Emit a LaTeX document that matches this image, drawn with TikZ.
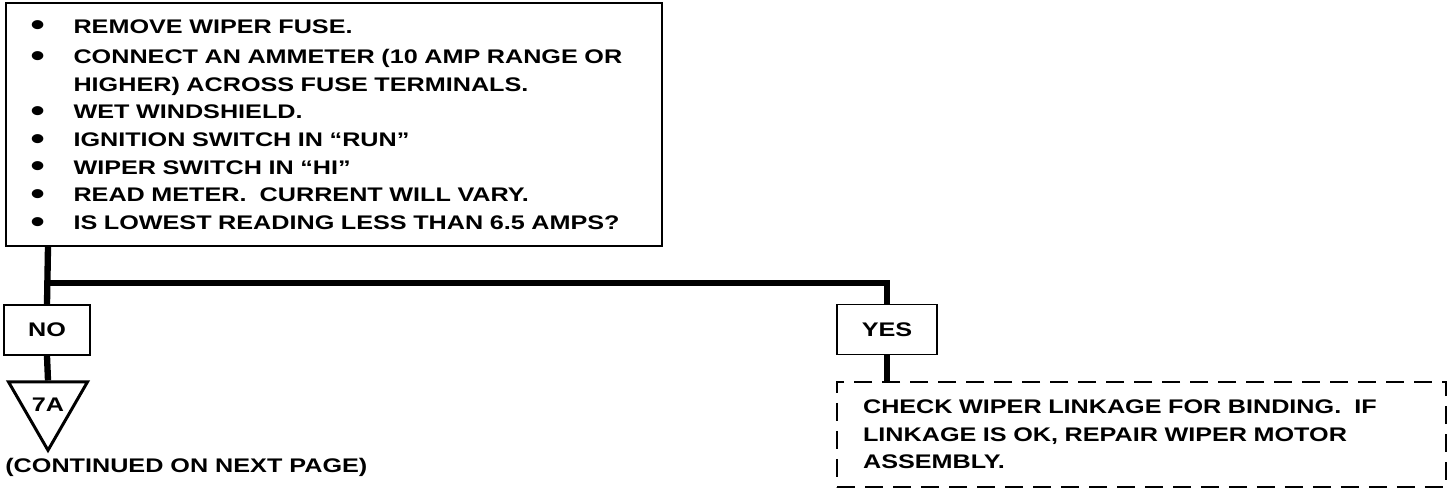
\documentclass[tikz,border=0pt]{standalone}
\usepackage{fontspec}
\setmainfont{Liberation Sans}[FakeStretch=1.28]
\usetikzlibrary{shapes.geometric}

\newcommand{\bul}{\makebox[0.86cm][l]{\smash{\raisebox{-0.14em}{\scalebox{1.6}{\textbullet}}}}}
\newcommand{\ind}{\hspace*{0.86cm}}

\begin{document}
\begin{tikzpicture}[x=0.02cm, y=-0.02cm,
		txt/.style={font=\bfseries\fontsize{11.2}{15.7}\selectfont},
		stepbox/.style={rectangle, draw=black, line width=1.1pt, txt, align=left, inner ysep=0pt},
		answer/.style={rectangle, draw=black, line width=1.1pt, txt, minimum height=1.0cm},
		trunk/.style={line width=3.6pt}]
		
		\useasboundingbox (0,0) rectangle (1456,492);
		
		% Test step
		\node[stepbox, minimum width=13.14cm, minimum height=4.86cm, text width=12.14cm, inner xsep=0.5cm] (test) at (334, 124.5)
		{\vspace*{0.06cm}\bul REMOVE WIPER FUSE.\\
			\bul CONNECT AN AMMETER (10 AMP RANGE OR\\
			\ind HIGHER) ACROSS FUSE TERMINALS.\\
			\bul WET WINDSHIELD.\\
			\bul IGNITION SWITCH IN “RUN”\\
			\bul WIPER SWITCH IN “HI”\\
			\bul READ METER.\ \ CURRENT WILL VARY.\\
			\bul IS LOWEST READING LESS THAN 6.5 AMPS?};
		
		% Answers
		\node[answer, minimum width=1.72cm] (no) at (47, 330) {NO};
		\node[answer, minimum width=2.0cm] (yes) at (887, 329.5) {YES};
		
		% NO branch
		\node[regular polygon, regular polygon sides=3, shape border rotate=180, draw=black, line width=1.7pt,
		minimum size=1.5cm, inner sep=0pt, txt] (next) at (48, 404.75) {7A};
		\node[txt, anchor=west, inner sep=0pt] (cont) at (5, 467) {(CONTINUED ON NEXT PAGE)};
		
		% YES branch
		\node[stepbox, dashed, dash pattern=on 0.36cm off 0.2cm, minimum width=12.18cm, minimum height=2.1cm, text width=11.14cm, inner xsep=0.52cm] (fix) at (1141.5, 434.5)
		{CHECK WIPER LINKAGE FOR BINDING.\ \ IF\\
			LINKAGE IS OK, REPAIR WIPER MOTOR\\
			ASSEMBLY.};
		
		% Lines
		\coordinate (split) at (48, 283);
		\draw[trunk] (test.south -| split) -- (no.north);
		\draw[trunk] (split) -| (yes.north);
		\draw[trunk] (no.south) -- (next.north);
		\draw[trunk] (yes.south) -- (fix.north -| yes.south);
		
	\end{tikzpicture}
\end{document}
